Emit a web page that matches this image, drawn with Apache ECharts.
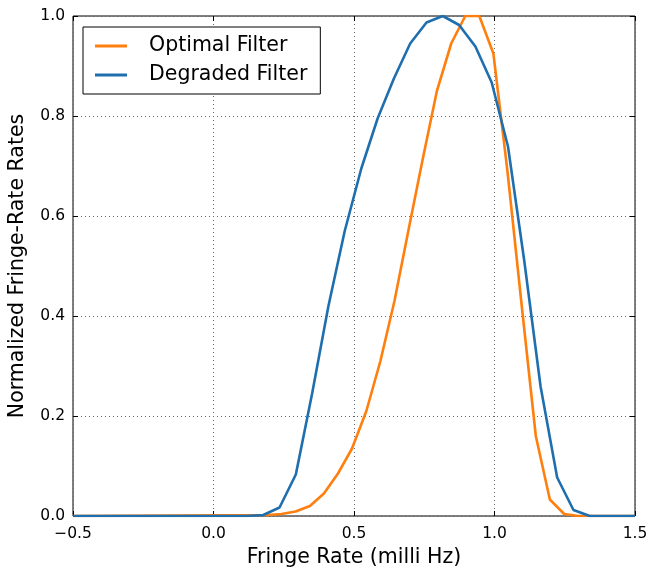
<!DOCTYPE html>
<html><head><meta charset="utf-8">
<script src="https://cdn.jsdelivr.net/npm/echarts@6/dist/echarts.min.js"></script>
<style>html,body{margin:0;padding:0;background:#fff}#c{width:647px;height:569px}</style>
</head><body><div id="c"></div>
<script>
const optimalX = [-0.5, 0.192, 0.242, 0.292, 0.343, 0.393, 0.443, 0.493, 0.544, 0.594, 0.644, 0.695, 0.745, 0.795, 0.846, 0.896, 0.946, 0.996, 1.046, 1.097, 1.147, 1.197, 1.248, 1.298, 1.5];
const optimalY = [0, 0.002, 0.004, 0.009, 0.02, 0.045, 0.085, 0.135, 0.21, 0.31, 0.43, 0.575, 0.715, 0.85, 0.945, 1.0, 1.0, 0.925, 0.69, 0.42, 0.16, 0.033, 0.004, 0, 0];
const degradedX = [-0.5, 0.119, 0.177, 0.235, 0.293, 0.351, 0.409, 0.467, 0.526, 0.584, 0.642, 0.700, 0.758, 0.816, 0.874, 0.932, 0.990, 1.048, 1.106, 1.164, 1.223, 1.281, 1.339, 1.5];
const degradedY = [0, 0, 0.002, 0.017, 0.083, 0.245, 0.42, 0.57, 0.695, 0.795, 0.875, 0.945, 0.987, 1.0, 0.982, 0.939, 0.867, 0.739, 0.51, 0.259, 0.077, 0.012, 0.0, 0];
const xTicks = [-0.5, 0.0, 0.5, 1.0, 1.5];
const yTicks = [0.0, 0.2, 0.4, 0.6, 0.8, 1.0];

const FONT = 'DejaVu Sans';
const pairs = (xs, ys) => xs.map((x, i) => [x, ys[i]]);
const fmt = v => v.toFixed(1).replace('-', '\u2212');

const chart = echarts.init(document.getElementById('c'), null, {renderer: 'canvas'});
const tick = {show: true, inside: true, length: 5, lineStyle: {color: '#000', width: 1}};
const baseX = {
  type: 'value', min: xTicks[0], max: xTicks[xTicks.length - 1], interval: 0.5,
  axisLine: {show: false, onZero: false}, axisTick: tick, splitLine: {show: false}
};
const baseY = {
  type: 'value', min: yTicks[0], max: yTicks[yTicks.length - 1], interval: 0.2,
  axisLine: {show: false, onZero: false}, axisTick: tick, splitLine: {show: false}
};
const grid = {show: true, lineStyle: {color: '#666', type: [1, 3], width: 1}};
chart.setOption({
  animation: false,
  backgroundColor: '#fff',
  grid: {left: 73, right: 12, top: 16, bottom: 53, containLabel: false, outerBoundsMode: 'none',
         show: true, borderColor: '#000', borderWidth: 1, backgroundColor: 'transparent'},
  legend: {
    left: 83, top: 27, orient: 'vertical',
    data: ['Optimal Filter', 'Degraded Filter'],
    icon: 'rect', itemWidth: 32, itemHeight: 3, itemGap: 5,
    padding: [7, 13, 7, 12],
    borderColor: '#000', borderWidth: 1, borderRadius: 0,
    backgroundColor: '#fff',
    textStyle: {fontFamily: FONT, fontSize: 20.5, color: '#000', padding: [0, 0, 0, 17], lineHeight: 24}
  },
  xAxis: [
    Object.assign({}, baseX, {
      position: 'bottom',
      name: 'Fringe Rate (milli Hz)', nameLocation: 'middle', nameGap: 31,
      nameTextStyle: {fontFamily: FONT, fontSize: 20.5, color: '#000'},
      axisLabel: {fontFamily: FONT, fontSize: 15.5, color: '#000', margin: 10, formatter: fmt},
      splitLine: grid
    }),
    Object.assign({}, baseX, {position: 'top', axisLabel: {show: false}})
  ],
  yAxis: [
    Object.assign({}, baseY, {
      position: 'left',
      name: 'Normalized Fringe-Rate Rates', nameLocation: 'middle', nameGap: 45,
      nameTextStyle: {fontFamily: FONT, fontSize: 20.5, color: '#000'},
      axisLabel: {fontFamily: FONT, fontSize: 15.5, color: '#000', margin: 8, formatter: fmt},
      splitLine: grid
    }),
    Object.assign({}, baseY, {position: 'right', axisLabel: {show: false}})
  ],
  series: [
    {name: 'Optimal Filter', type: 'line', data: pairs(optimalX, optimalY), showSymbol: false, symbol: 'none',
     color: '#ff7f0e', lineStyle: {color: '#ff7f0e', width: 2.6}, z: 3},
    {name: 'Degraded Filter', type: 'line', data: pairs(degradedX, degradedY), showSymbol: false, symbol: 'none',
     color: '#1f6fae', lineStyle: {color: '#1f6fae', width: 2.6}, z: 4}
  ]
});
</script></body></html>
